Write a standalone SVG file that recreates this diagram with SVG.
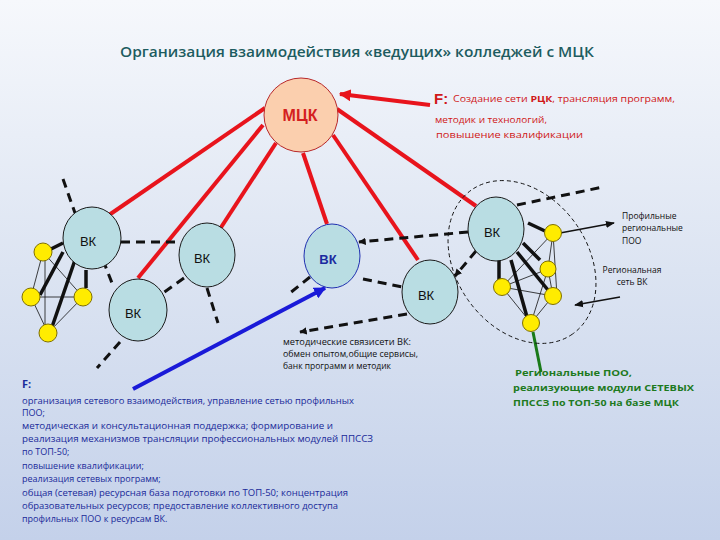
<svg xmlns="http://www.w3.org/2000/svg" width="720" height="540" viewBox="0 0 720 540">
<defs>
<linearGradient id="bg" x1="0" y1="0" x2="0" y2="1">
<stop offset="0" stop-color="#f6f8fc"/>
<stop offset="0.5" stop-color="#dce4f2"/>
<stop offset="1" stop-color="#c4d1ea"/>
</linearGradient>
<marker id="ar" viewBox="0 0 10 10" refX="9" refY="5" markerWidth="3" markerHeight="3" orient="auto"><path d="M0,0 L10,5 L0,10 z" fill="#e8141c"/></marker>
<marker id="ab" viewBox="0 0 10 10" refX="9" refY="5" markerWidth="3" markerHeight="3" orient="auto"><path d="M0,0 L10,5 L0,10 z" fill="#1a1ad8"/></marker>
<marker id="ak" viewBox="0 0 10 10" refX="9" refY="5" markerWidth="2.5" markerHeight="2.5" orient="auto"><path d="M0,0 L10,5 L0,10 z" fill="#111"/></marker>
<marker id="akt" viewBox="0 0 10 10" refX="9" refY="5" markerWidth="6" markerHeight="6" orient="auto"><path d="M0,1 L10,5 L0,9 z" fill="#111"/></marker>
</defs>
<style>
.red{stroke:#e8141c;stroke-width:4;fill:none}
.dash{stroke:#111;stroke-width:3;stroke-dasharray:9 6;fill:none}
.thick{stroke:#111;stroke-width:3.5;fill:none}
.thin{stroke:#111;stroke-width:0.8;fill:none}
.vk{fill:#b9dde3;stroke:#1a1a1a;stroke-width:1}
.y{fill:#ffec00;stroke:#807000;stroke-width:1}
.vkt{font-family:"Liberation Sans",Arial,sans-serif;font-size:13px;fill:#111;text-anchor:middle}
.t{font-family:"Open Sans","Noto Sans",sans-serif}
.b{font-family:"Liberation Sans",Arial,sans-serif}
</style>
<rect x="0" y="0" width="720" height="540" fill="url(#bg)"/>
<text class="t" x="120" y="57" font-size="15" font-weight="600" fill="#1d5c60" textLength="474" lengthAdjust="spacingAndGlyphs">Организация взаимодействия «ведущих» колледжей с МЦК</text>

<g id="connectors">
<line class="red" x1="265" y1="108" x2="109" y2="215"/>
<line class="red" x1="263" y1="125" x2="138" y2="278"/>
<line class="red" x1="276" y1="143" x2="218" y2="232"/>
<line class="red" x1="303" y1="153" x2="327" y2="224"/>
<line class="red" x1="333" y1="135" x2="418" y2="260"/>
<line class="red" x1="337" y1="109" x2="476" y2="206"/>
<line class="red" x1="430" y1="105" x2="340" y2="94" marker-end="url(#ar)"/>
<line x1="133" y1="389" x2="325" y2="288" stroke="#1a1ad8" stroke-width="4" marker-end="url(#ab)"/>
<line x1="541" y1="372" x2="533" y2="332" stroke="#1a7a1a" stroke-width="3"/>
<line class="dash" x1="63" y1="179" x2="75" y2="213"/>
<line class="dash" x1="121" y1="242" x2="178" y2="242"/>
<line class="dash" x1="103" y1="260" x2="112" y2="283"/>
<line class="dash" x1="184" y1="278" x2="163" y2="293"/>
<line class="dash" x1="207" y1="288" x2="218" y2="323"/>
<line class="dash" x1="120" y1="342" x2="97" y2="368"/>
<line class="dash" x1="310" y1="277" x2="290" y2="293"/>
<line class="dash" x1="468" y1="232" x2="359" y2="242" marker-end="url(#ak)"/>
<line class="dash" x1="363" y1="279" x2="402" y2="287"/>
<line class="dash" x1="407" y1="314" x2="300" y2="332" marker-end="url(#ak)"/>
<line class="dash" x1="476" y1="251" x2="455" y2="276" marker-end="url(#ak)"/>
<line class="dash" x1="517" y1="205" x2="603" y2="187"/>
<ellipse cx="522" cy="262" rx="88" ry="66" transform="rotate(55 522 262)" fill="none" stroke="#111" stroke-width="0.9" stroke-dasharray="4 3"/>
<line class="thin" x1="43" y1="252" x2="31" y2="297"/>
<line class="thin" x1="43" y1="252" x2="83" y2="297"/>
<line class="thin" x1="45" y1="252" x2="45" y2="333"/>
<line class="thin" x1="31" y1="297" x2="83" y2="297"/>
<line class="thin" x1="31" y1="297" x2="48" y2="333"/>
<line class="thin" x1="83" y1="297" x2="48" y2="333"/>
<line class="thick" x1="63" y1="243" x2="47" y2="251"/>
<line class="thick" x1="63" y1="252" x2="40" y2="295"/>
<line class="thick" x1="75" y1="260" x2="52" y2="327"/>
<line class="thick" x1="86" y1="270" x2="86" y2="288"/>
<line class="thin" x1="553" y1="233" x2="548" y2="269"/>
<line class="thin" x1="553" y1="233" x2="502" y2="287"/>
<line class="thin" x1="553" y1="233" x2="557" y2="296"/>
<line class="thin" x1="548" y1="269" x2="502" y2="287"/>
<line class="thin" x1="548" y1="269" x2="531" y2="323"/>
<line class="thin" x1="548" y1="269" x2="553" y2="296"/>
<line class="thin" x1="502" y1="287" x2="553" y2="296"/>
<line class="thin" x1="502" y1="287" x2="531" y2="323"/>
<line class="thin" x1="553" y1="296" x2="531" y2="323"/>
<line class="thick" x1="528" y1="223" x2="545" y2="231"/>
<line class="thick" x1="523" y1="243" x2="540" y2="260"/>
<line class="thick" x1="517" y1="252" x2="552" y2="295"/>
<line class="thick" x1="511" y1="260" x2="527" y2="317"/>
<line class="thick" x1="499" y1="260" x2="499" y2="280"/>
<line x1="560" y1="233" x2="614" y2="223" stroke="#111" stroke-width="1.5" marker-end="url(#akt)"/>
<line x1="620" y1="297" x2="575" y2="305" stroke="#111" stroke-width="1.5" marker-end="url(#akt)"/>
</g>

<g id="mck"><circle cx="301" cy="115" r="37" fill="#fbcfae" stroke="#b8282a" stroke-width="1"/><text x="300" y="121" font-family="Liberation Sans,Arial,sans-serif" font-size="16" font-weight="bold" fill="#d42020" text-anchor="middle">МЦК</text></g>
<g id="vk1"><ellipse class="vk" cx="92" cy="238" rx="29" ry="31"/><text class="vkt" x="88" y="246">ВК</text></g>
<g id="vk2"><ellipse class="vk" cx="207" cy="255" rx="28" ry="32"/><text class="vkt" x="202" y="263">ВК</text></g>
<g id="vk3"><ellipse class="vk" cx="138" cy="310" rx="29" ry="31"/><text class="vkt" x="133" y="318">ВК</text></g>
<g id="vk4"><ellipse cx="332" cy="256" rx="28" ry="32" fill="#b9dde3" stroke="#2030b0" stroke-width="1"/><text class="vkt" x="328" y="264" font-weight="bold" style="fill:#1b2ba0">ВК</text></g>
<g id="vk5"><ellipse class="vk" cx="430" cy="292" rx="28" ry="32"/><text class="vkt" x="426" y="300">ВК</text></g>
<g id="vk6"><ellipse class="vk" cx="496" cy="229" rx="28" ry="32"/><text class="vkt" x="492" y="237">ВК</text></g>

<g id="left-poo">
<circle class="y" cx="43" cy="252" r="9"/>
<circle class="y" cx="31" cy="297" r="9"/>
<circle class="y" cx="83" cy="297" r="9"/>
<circle class="y" cx="48" cy="333" r="9"/>
</g>
<g id="right-poo">
<circle class="y" cx="553" cy="233" r="8.5"/>
<circle class="y" cx="548" cy="269" r="8"/>
<circle class="y" cx="502" cy="287" r="8.5"/>
<circle class="y" cx="553" cy="296" r="8.5"/>
<circle class="y" cx="531" cy="323" r="8.5"/>
</g>

<g id="f-top" class="t" fill="#d01818">
<text x="434" y="104" font-size="15" font-weight="bold" class="b">F:</text>
<text x="453" y="102" font-size="9.5" textLength="222" lengthAdjust="spacingAndGlyphs">Создание сети <tspan font-weight="bold">РЦК</tspan>, трансляция программ,</text>
<text x="435" y="123" font-size="9.5" textLength="112" lengthAdjust="spacingAndGlyphs">методик  и технологий,</text>
<text x="436" y="138" font-size="9.5" textLength="147" lengthAdjust="spacingAndGlyphs">повышение квалификации</text>
</g>

<g id="labels-right" class="t" fill="#111" font-size="8.5">
<text x="622" y="219">Профильные</text>
<text x="622" y="231">региональные</text>
<text x="622" y="244">ПОО</text>
<text x="632" y="273" text-anchor="middle">Региональная</text>
<text x="632" y="285" text-anchor="middle">сеть ВК</text>
</g>

<g id="mid-text" class="t" fill="#111" font-size="8.5">
<text x="283" y="345" textLength="128" lengthAdjust="spacingAndGlyphs">методические связисети ВК:</text>
<text x="283" y="357" textLength="135" lengthAdjust="spacingAndGlyphs">обмен опытом,общие сервисы,</text>
<text x="283" y="369" textLength="108" lengthAdjust="spacingAndGlyphs">банк программ и методик</text>
</g>

<g id="green-text" class="t" fill="#1e7a1e" font-size="9.5" font-weight="bold">
<text x="515" y="376" textLength="117" lengthAdjust="spacingAndGlyphs">Региональные ПОО,</text>
<text x="513" y="391" textLength="181" lengthAdjust="spacingAndGlyphs">реализующие модули СЕТЕВЫХ</text>
<text x="513" y="406" textLength="166" lengthAdjust="spacingAndGlyphs">ППССЗ по ТОП-50 на базе МЦК</text>
</g>

<g id="f-bottom" class="t" fill="#1a2a9a" font-size="9">
<text x="22" y="388" font-size="11" font-weight="bold">F:</text>
<text x="22" y="404" textLength="332" lengthAdjust="spacingAndGlyphs">организация сетевого взаимодействия, управление сетью профильных</text>
<text x="22" y="416">ПОО;</text>
<text x="22" y="429" textLength="311" lengthAdjust="spacingAndGlyphs">методическая и консультационная поддержка; формирование и</text>
<text x="22" y="442" textLength="351" lengthAdjust="spacingAndGlyphs">реализация механизмов трансляции профессиональных модулей ППССЗ</text>
<text x="22" y="455">по ТОП-50;</text>
<text x="22" y="469">повышение квалификации;</text>
<text x="22" y="482">реализация сетевых программ;</text>
<text x="22" y="496" textLength="326" lengthAdjust="spacingAndGlyphs">общая (сетевая) ресурсная база подготовки по ТОП-50; концентрация</text>
<text x="22" y="509" textLength="316" lengthAdjust="spacingAndGlyphs">образовательных ресурсов; предоставление коллективного доступа</text>
<text x="22" y="522">профильных ПОО к ресурсам ВК.</text>
</g>
</svg>
